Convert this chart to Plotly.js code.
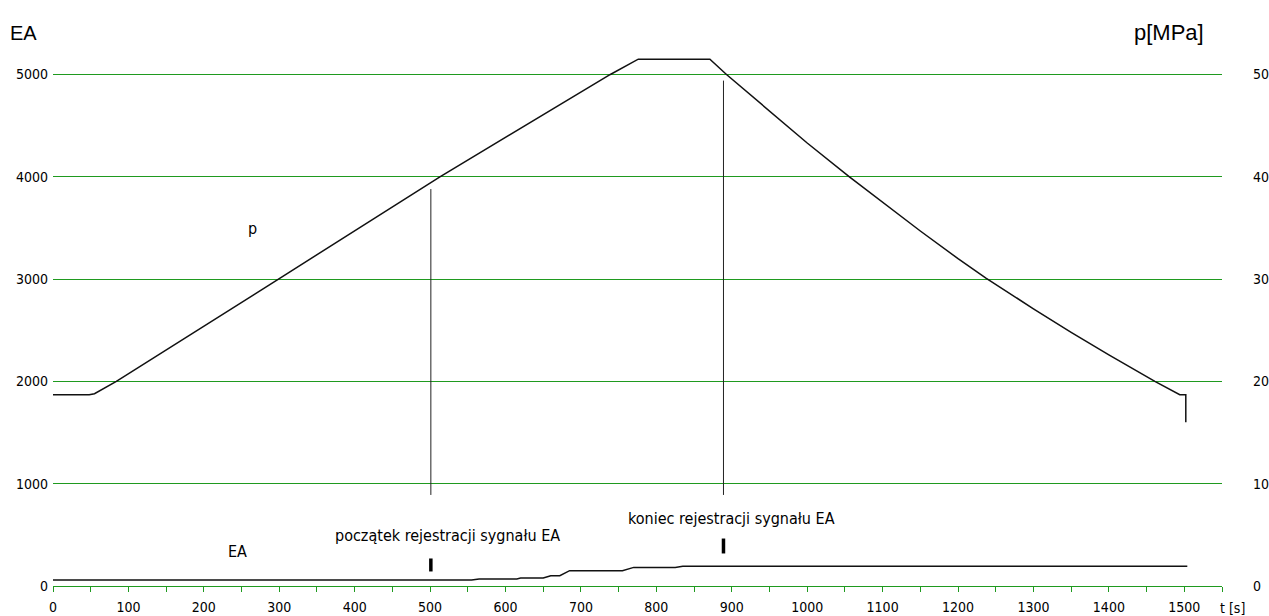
<!DOCTYPE html>
<html>
<head>
<meta charset="utf-8">
<script src="https://cdn.plot.ly/plotly-3.0.1.min.js"></script>
<style>html,body{margin:0;padding:0;background:#fff;}#chart{width:1269px;height:616px;}</style>
</head>
<body>
<div id="chart"></div>
<script>
// pressure p [MPa] vs time t [s]
const pTime = [0, 48, 55, 84, 299, 513, 739, 776, 815, 871, 893, 950, 1000, 1056, 1100, 1150, 1200, 1237, 1300, 1350, 1400, 1461, 1494, 1502, 1502];
const pValue = [18.7, 18.7, 18.8, 20.0, 30.0, 40.0, 50.0, 51.5, 51.5, 51.5, 50.0, 46.4, 43.3, 40.0, 37.5, 34.7, 32.0, 30.1, 27.1, 24.8, 22.6, 20.0, 18.7, 18.7, 16.0];
// EA signal vs time
const eaTime = [0, 555, 565, 615, 620, 650, 660, 672, 685, 755, 770, 825, 835, 1504];
const eaValue = [59, 59, 68, 68, 78, 78, 101, 101, 150, 150, 182, 182, 192, 192];
// markers: start / end of EA registration
const markTime = [501, 889];
const markLineTop = [3880, 4940];
const markLineBottom = [890, 890];
const markTickBottom = [142, 318];
const markTickTop = [269, 464];
// axis ticks
const xTickVals = [0,50,100,150,200,250,300,350,400,450,500,550,600,650,700,750,800,850,900,950,1000,1050,1100,1150,1200,1250,1300,1350,1400,1450,1500,1550];
const xTickText = ['0','','100','','200','','300','','400','','500','','600','','700','','800','','900','','1000','','1100','','1200','','1300','','1400','','1500',''];
const yTickVals = [0, 1000, 2000, 3000, 4000, 5000];
const y2TickVals = [0, 10, 20, 30, 40, 50];
// texts
const labelP = 'p';
const labelEA = 'EA';
const labelStart = 'początek rejestracji sygnału EA';
const labelEnd = 'koniec rejestracji sygnału EA';

const GREEN = '#1f9a1f';
const NARROW = 'Liberation Sans Narrow, DejaVu Sans Condensed, Arial Narrow, sans-serif';

const vx = [], vy = [];
markTime.forEach((t, i) => { vx.push(t, t, null); vy.push(markLineBottom[i], markLineTop[i], null); });
const tx = [], ty = [];
markTime.forEach((t, i) => { tx.push(t, t, null); ty.push(markTickBottom[i], markTickTop[i], null); });

const traces = [
  {x: pTime, y: pValue, xaxis: 'x', yaxis: 'y2', mode: 'lines', line: {color: '#111', width: 1.5}, hoverinfo: 'skip'},
  {x: eaTime, y: eaValue, xaxis: 'x', yaxis: 'y', mode: 'lines', line: {color: '#111', width: 1.5}, hoverinfo: 'skip'},
  {x: vx, y: vy, xaxis: 'x', yaxis: 'y', mode: 'lines', line: {color: '#222', width: 1}, hoverinfo: 'skip'},
  {x: tx, y: ty, xaxis: 'x', yaxis: 'y', mode: 'lines', line: {color: '#000', width: 3.5}, hoverinfo: 'skip'}
];

const layout = {
  width: 1269, height: 616,
  margin: {l: 53, r: 47, t: 22, b: 30},
  paper_bgcolor: '#fff', plot_bgcolor: '#fff',
  showlegend: false,
  font: {family: NARROW, size: 14, color: '#000'},
  xaxis: {
    range: [0, 1550], tickmode: 'array', tickvals: xTickVals, ticktext: xTickText,
    showgrid: false, zeroline: false, showline: true, linecolor: GREEN, linewidth: 1,
    ticks: 'outside', ticklen: 5, tickcolor: GREEN, tickwidth: 1, ticklabelstandoff: 3,
    tickfont: {family: NARROW, size: 14, color: '#000'}
  },
  yaxis: {
    range: [0, 5513], tickmode: 'array', tickvals: yTickVals,
    showgrid: true, gridcolor: GREEN, gridwidth: 1, zeroline: false, showline: false,
    ticks: '', ticklabelstandoff: 4,
    tickfont: {family: NARROW, size: 14, color: '#000'}
  },
  yaxis2: {
    range: [0, 55.13], overlaying: 'y', side: 'right', tickmode: 'array', tickvals: y2TickVals,
    showgrid: false, gridcolor: GREEN, zeroline: false, showline: false, ticks: '', ticklabelstandoff: 30,
    tickfont: {family: NARROW, size: 14, color: '#000'}
  },
  annotations: [
    {text: 'EA', xref: 'paper', yref: 'paper', x: -0.0385, y: 0.9805, xanchor: 'left', yanchor: 'middle', showarrow: false, font: {family: 'Liberation Sans, Arial, sans-serif', size: 20, color: '#000'}},
    {text: 'p[MPa]', xref: 'paper', yref: 'paper', x: 0.986, y: 0.9805, xanchor: 'right', yanchor: 'middle', showarrow: false, font: {family: 'Liberation Sans, Arial, sans-serif', size: 22, color: '#000'}},
    {text: 't [s]', xref: 'paper', yref: 'paper', x: 1.0086, y: -0.039, xanchor: 'center', yanchor: 'middle', showarrow: false, font: {family: NARROW, size: 14, color: '#000'}},
    {text: labelP, xref: 'x', yref: 'y', x: 265, y: 3493, xanchor: 'center', yanchor: 'middle', showarrow: false, font: {family: NARROW, size: 16, color: '#000'}},
    {text: labelEA, xref: 'x', yref: 'y', x: 245, y: 335, xanchor: 'center', yanchor: 'middle', showarrow: false, font: {family: NARROW, size: 16, color: '#000'}},
    {text: labelStart, xref: 'x', yref: 'y', x: 523, y: 491, xanchor: 'center', yanchor: 'middle', showarrow: false, font: {family: NARROW, size: 16, color: '#000'}},
    {text: labelEnd, xref: 'x', yref: 'y', x: 899, y: 657, xanchor: 'center', yanchor: 'middle', showarrow: false, font: {family: NARROW, size: 16, color: '#000'}}
  ]
};

Plotly.newPlot('chart', traces, layout, {staticPlot: true, displayModeBar: false});
</script>
</body>
</html>
